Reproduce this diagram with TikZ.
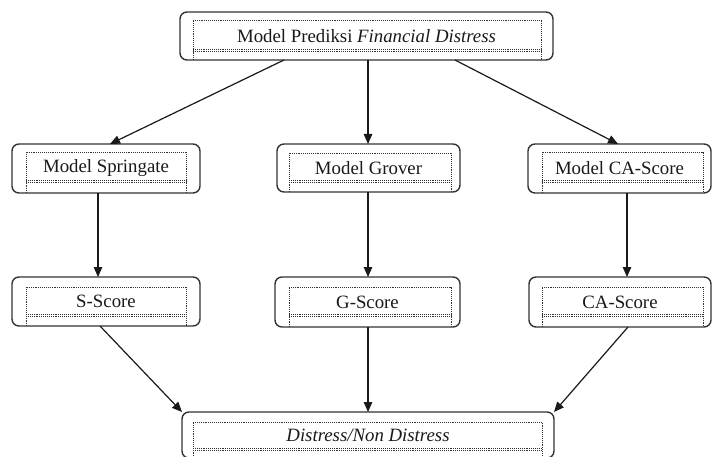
\documentclass[tikz,border=0pt]{standalone}
\usepackage{fontspec}
\setmainfont{Liberation Serif}
\usetikzlibrary{arrows.meta,calc}
\definecolor{edge}{HTML}{333333}
\tikzset{
 outerbox/.style={draw=edge, line width=1.4pt, rounded corners=7pt, inner sep=0pt, outer sep=0pt, font=\fontsize{18.8}{20}\selectfont, text=black!90},
 dotline/.style={draw=black!80, line width=0.8pt, dash pattern=on 0.8pt off 1.1pt},
 conn/.style={draw=black!90, line width=1.2pt, -{Triangle[length=10pt,width=8.5pt]}},
}
\newcommand\innerframe[5]{%
 \draw[dotline] (#1,#5) -- (#1,#2) -- (#3,#2) -- (#3,#5);
 \draw[dotline] (#1,#4-1) -- (#3,#4-1);
 \draw[dotline] (#1,#4+1) -- (#3,#4+1);
}
\begin{document}
\begin{tikzpicture}[x=1pt,y=-1pt]
\useasboundingbox (0,0) rectangle (712,457);
\node[outerbox, minimum width=373pt, minimum height=48pt] (top) at (366.5,36) {Model Prediksi \textit{Financial Distress}};
\node[outerbox, minimum width=188pt, minimum height=49pt] (spr) at (106,168.5) {Model Springate};
\node[outerbox, minimum width=183pt, minimum height=48pt] (gro) at (368.5,168) {Model Grover};
\node[outerbox, minimum width=183pt, minimum height=49pt] (cam) at (619.5,168.5) {Model CA-Score};
\node[outerbox, minimum width=188pt, minimum height=49pt] (ss) at (106,301.5) {S-Score};
\node[outerbox, minimum width=185pt, minimum height=50pt] (gs) at (367.5,302) {G-Score};
\node[outerbox, minimum width=182pt, minimum height=50pt] (cas) at (620,302) {CA-Score};
\node[outerbox, minimum width=372pt, minimum height=46pt] (bot) at (368,435) {\textit{Distress/Non Distress}};
\innerframe{193}{20}{541}{50}{60}
\innerframe{26}{152}{186}{181}{193}
\innerframe{289}{153}{451}{181}{192}
\innerframe{542}{152}{703}{181}{193}
\innerframe{26}{287}{186}{315}{326}
\innerframe{289}{287}{451}{315}{327}
\innerframe{542}{287}{703}{315}{327}
\innerframe{193}{422}{542}{449}{458}
\draw[conn] (top.south -| 284,0) -- (spr.north -| 110,0);
\draw[conn] (top.south -| 368,0) -- (gro.north -| 368,0);
\draw[conn] (top.south -| 455,0) -- (cam.north -| 618,0);
\draw[conn] (spr.south -| 98,0) -- (ss.north -| 98,0);
\draw[conn] (gro.south -| 368,0) -- (gs.north -| 368,0);
\draw[conn] (cam.south -| 627,0) -- (cas.north -| 627,0);
\draw[conn] (ss.south -| 100,0) -- (bot.north west);
\draw[conn] (gs.south -| 368,0) -- (bot.north -| 368,0);
\draw[conn] (cas.south -| 628,0) -- (bot.north east);
\end{tikzpicture}
\end{document}
